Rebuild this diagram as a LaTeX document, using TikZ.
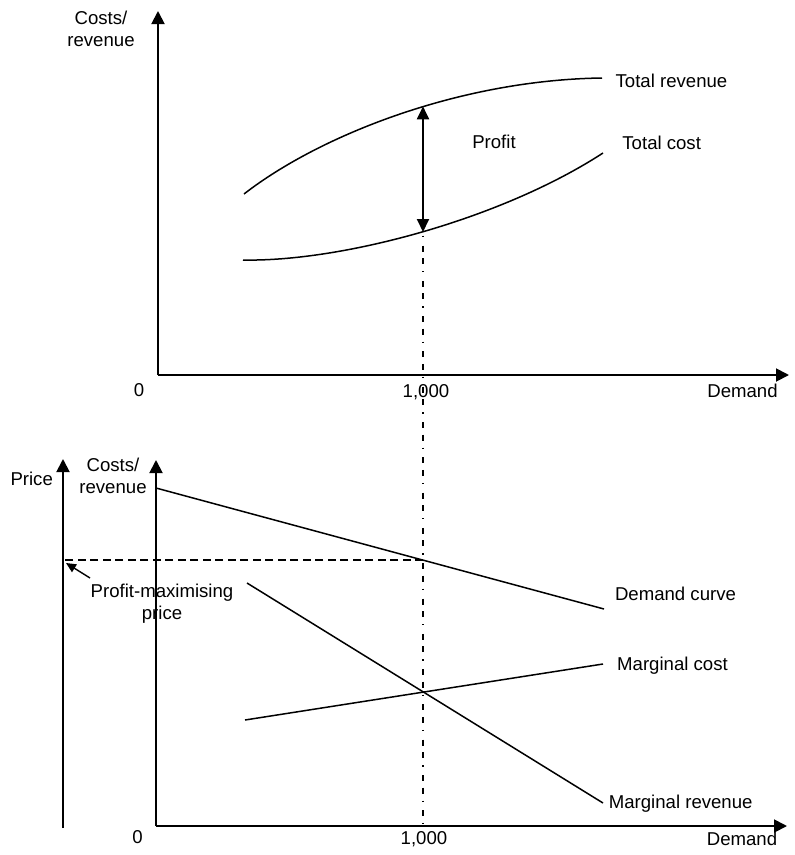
\documentclass[tikz,border=0pt]{standalone}
\usepackage{fontspec}
\setmainfont{Liberation Sans}
\usetikzlibrary{arrows.meta}
\begin{document}
\begin{tikzpicture}[x=1pt, y=-1pt,
  axis/.style={line width=1.9pt, -{Triangle[length=13pt,width=13pt]}},
  curve/.style={line width=1.5pt},
  lbl/.style={inner sep=0pt, font=\fontsize{18.6}{22}\selectfont, align=center},
  guide/.style={line width=2.1pt,
    dash pattern=on 6pt off 6.5pt on 6pt off 7pt on 1.3pt off 8.5pt, dash phase=21.8pt},
  level/.style={line width=2pt, dash pattern=on 8pt off 4.5pt},
  gap/.style={line width=1.9pt,
    {Triangle[length=13pt,width=12pt]}-{Triangle[length=13pt,width=12pt]}},
  pointer/.style={line width=1.4pt, -{Triangle[length=10pt,width=9pt]}}
]
\useasboundingbox (0,0) rectangle (795,855);

% ---------- upper chart: total revenue and total cost ----------
\coordinate (O1) at (158,375);
\coordinate (Y1) at (158,11);
\coordinate (X1) at (789,375);
\draw[axis] (O1) -- (Y1);
\draw[axis] (O1) -- (X1);

\coordinate (TR0) at (244,194);
\coordinate (TR1) at (602,78);
\draw[curve] (TR0) .. controls (320,135) and (460,80) .. (TR1);

\coordinate (TC0) at (243,260);
\coordinate (TC1) at (603,153);
\draw[curve] (TC0) .. controls (340,262) and (500,220) .. (TC1);

\coordinate (P1) at (423,106.3);
\coordinate (P2) at (423,232);
\draw[gap] (P1) -- (P2);

\node[lbl, anchor=north] (cr1) at (101,10.5) {Costs/\\revenue};
\node[lbl, anchor=base] (zero1) at (139,396) {0};
\node[lbl, anchor=base] (k1) at (426,397) {1,000};
\node[lbl, anchor=base] (dem1) at (742.5,397) {Demand};
\node[lbl, anchor=base] (trl) at (671.5,87) {Total revenue};
\node[lbl, anchor=base] (tcl) at (661.7,149) {Total cost};
\node[lbl, anchor=base] (prl) at (494,148) {Profit};

% ---------- lower chart: demand, marginal revenue, marginal cost ----------
\coordinate (O2) at (156,826);
\coordinate (Y2) at (156,460);
\coordinate (X2) at (787,826);
\coordinate (PB) at (63,828);
\coordinate (PT) at (63,459);
\draw[axis] (O2) -- (Y2);
\draw[axis] (O2) -- (X2);
\draw[axis] (PB) -- (PT);

\coordinate (D0) at (156,488);
\coordinate (D1) at (604,609);
\draw[curve] (D0) -- coordinate[pos=0.596] (DQ) (D1);

\coordinate (MR0) at (247,583);
\coordinate (MR1) at (603,803);
\draw[curve] (MR0) -- (MR1);

\coordinate (MC0) at (245,720);
\coordinate (MC1) at (603,664);
\draw[curve] (MC0) -- (MC1);

% profit-maximising price
\draw[level] (DQ) -- ([xshift=1pt]DQ -| PT);
\coordinate (A0) at (90,578);
\coordinate (A1) at (66,563);
\draw[pointer] (A0) -- (A1);

% output of 1,000 carried down from the upper chart
\coordinate (G) at (423,824);
\draw[guide] (P2) -- (G);

\node[lbl, anchor=base] (pricel) at (31.7,485) {Price};
\node[lbl, anchor=north] (cr2) at (113,457.5) {Costs/\\revenue};
\node[lbl, anchor=north] (pmp) at (162,583.5) {Profit-maximising\\price};
\node[lbl, anchor=base] (zero2) at (137.5,843) {0};
\node[lbl, anchor=base] (k2) at (424,844) {1,000};
\node[lbl, anchor=base] (dem2) at (742,845) {Demand};
\node[lbl, anchor=base] (dcl) at (675.5,600) {Demand curve};
\node[lbl, anchor=base] (mcl) at (672.5,670) {Marginal cost};
\node[lbl, anchor=base] (mrl) at (680.7,808) {Marginal revenue};
\end{tikzpicture}
\end{document}
